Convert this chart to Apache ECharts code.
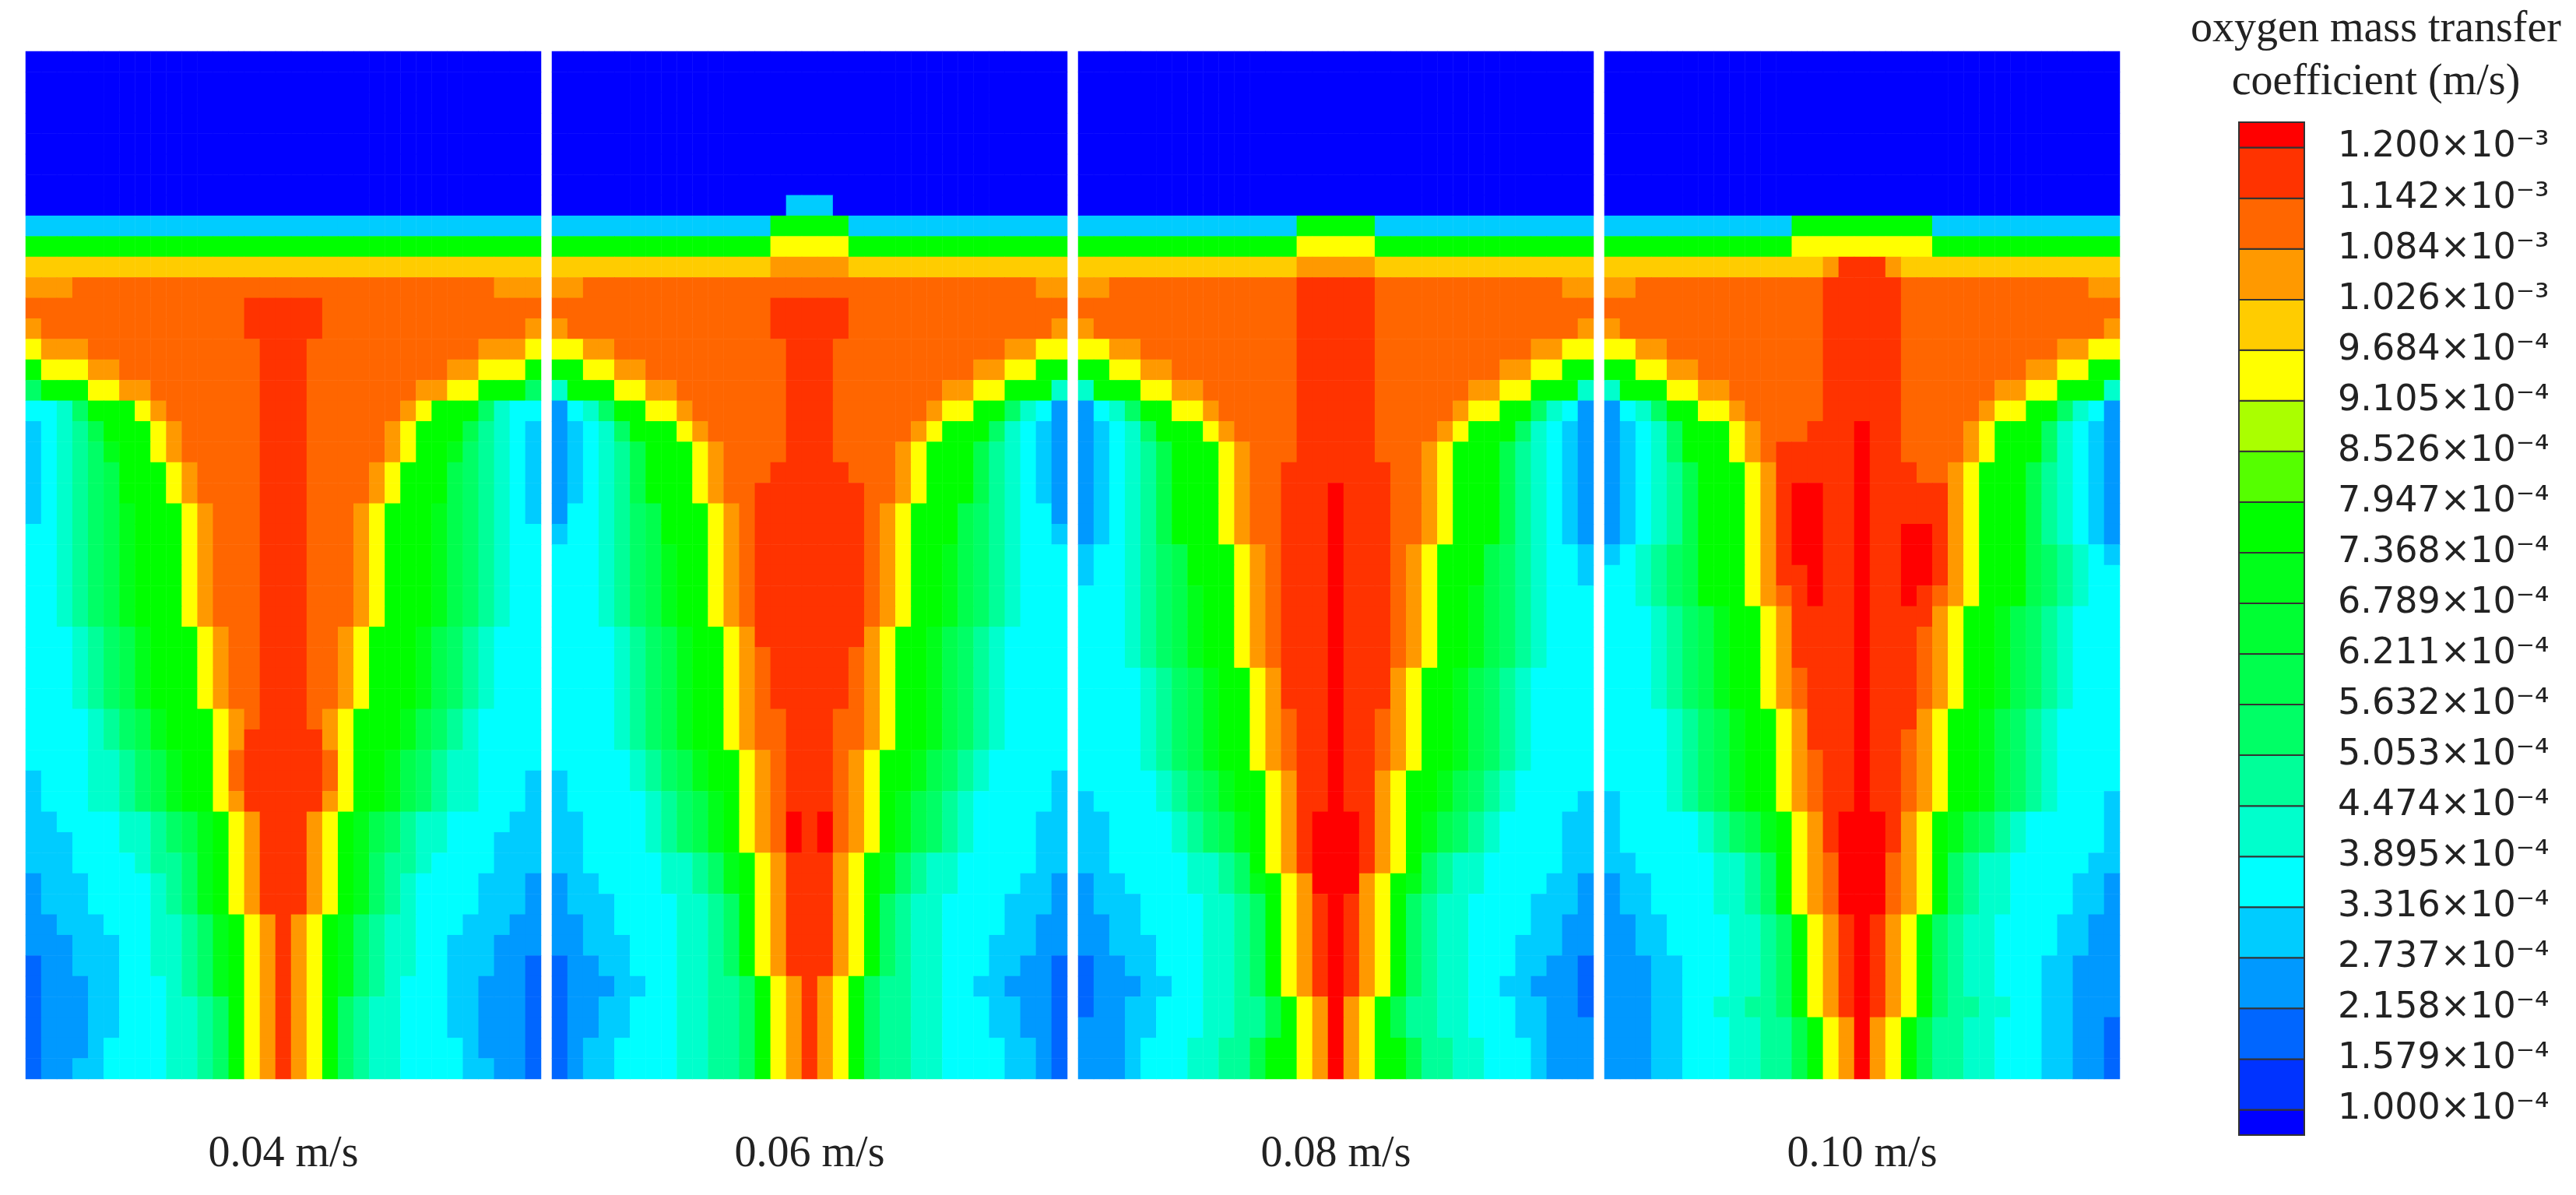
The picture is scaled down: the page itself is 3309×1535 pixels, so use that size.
<!DOCTYPE html>
<html>
<head>
<meta charset="utf-8">
<script src="https://cdn.jsdelivr.net/npm/echarts@6/dist/echarts.min.js"></script>
<style>
html, body { margin: 0; padding: 0; background: #fff; }
#chart { width: 3309px; height: 1535px; }
</style>
</head>
<body>
<div id="chart"></div>
<script>
// contour levels shown on the legend (m/s), bottom to top
var levels = [1.000e-4, 1.579e-4, 2.158e-4, 2.737e-4, 3.316e-4, 3.895e-4, 4.474e-4, 5.053e-4,
    5.632e-4, 6.211e-4, 6.789e-4, 7.368e-4, 7.947e-4, 8.526e-4, 9.105e-4, 9.684e-4,
    1.026e-3, 1.084e-3, 1.142e-3, 1.200e-3];
var tickMantissa = ['1.000', '1.579', '2.158', '2.737', '3.316', '3.895', '4.474', '5.053',
    '5.632', '6.211', '6.789', '7.368', '7.947', '8.526', '9.105', '9.684',
    '1.026', '1.084', '1.142', '1.200'];
var tickExponent = [-4, -4, -4, -4, -4, -4, -4, -4, -4, -4, -4, -4, -4, -4, -4, -4, -3, -3, -3, -3];
// one colour per band: below the first level, the 19 intervals, above the last level
var bandColors = ['#0000ff', '#0033ff', '#0066ff', '#0099ff', '#00ccff', '#00ffff', '#00ffcc',
    '#00ff99', '#00ff66', '#00ff4d', '#00ff33', '#00ff1a', '#00ff00', '#55ff00', '#aaff00',
    '#ffff00', '#ffcc00', '#ff9900', '#ff6600', '#ff3300', '#ff0000'];
var speeds = ['0.04 m/s', '0.06 m/s', '0.08 m/s', '0.10 m/s'];
var titleLines = ['oxygen mass transfer', 'coefficient (m/s)'];

// band: one string per row (top to bottom), one char per column
// (left to right), 0-9 then a-k = band 0..20
var field004 = [
    "000000000000000000000000000000000",
    "000000000000000000000000000000000",
    "000000000000000000000000000000000",
    "000000000000000000000000000000000",
    "000000000000000000000000000000000",
    "000000000000000000000000000000000",
    "000000000000000000000000000000000",
    "000000000000000000000000000000000",
    "444444444444444444444444444444444",
    "ccccccccccccccccccccccccccccccccc",
    "ggggggggggggggggggggggggggggggggg",
    "hhhiiiiiiiiiiiiiiiiiiiiiiiiiiihhh",
    "iiiiiiiiiiiiiijjjjjiiiiiiiiiiiiii",
    "hiiiiiiiiiiiiijjjjjiiiiiiiiiiiiih",
    "fhhhiiiiiiiiiiijjjiiiiiiiiiiihhhf",
    "cfffhhiiiiiiiiijjjiiiiiiiiihhfffc",
    "8cccffhhiiiiiiijjjiiiiiiihhffccc8",
    "5568cccfhiiiiiijjjiiiiiihfccc8655",
    "45679cccfhiiiiijjjiiiiihfccc97654",
    "45678bccfhiiiiijjjiiiiihfccb87654",
    "456789cccfhiiiijjjiiiihfccc987654",
    "456789cccfhiiiijjjiiiihfccc987654",
    "456789bcccfhiiijjjiiihfcccb987654",
    "556789bcccfhiiijjjiiihfcccb987655",
    "556789bcccfhiiijjjiiihfcccb987655",
    "556789bcccfhiiijjjiiihfcccb987655",
    "556789bcccfhiiijjjiiihfcccb987655",
    "556789bcccfhiiijjjiiihfcccb987655",
    "5556789bcccfhiijjjiihfcccb9876555",
    "5556789bcccfhiijjjiihfcccb9876555",
    "5556789bcccfhiijjjiihfcccb9876555",
    "5556789bcccfhiijjjiihfcccb9876555",
    "55556789bcccfhijjjihfcccb98765555",
    "55556789bcccfhjjjjjhfcccb98765555",
    "555566789bccfijjjjjifccb987665555",
    "455566789bccfijjjjjifccb987665554",
    "455566789bccfhjjjjjhfccb987665554",
    "44555566789bcfhjjjhfcb98766555544",
    "44455566789bcfhjjjhfcb98766555444",
    "44455556778bcfhjjjhfcb87765555444",
    "34445555678bcfhjjjhfcb87655554443",
    "34445555678bcfhjjjhfcb87655554443",
    "334445556678bcfhjhfcb876655544433",
    "333444556678bcfhjhfcb876655444333",
    "233444556678bcfhjhfcb876655444332",
    "233344555678bcfhjhfcb876555443332",
    "2333445556678cfhjhfc8766555443332",
    "2333445556678cfhjhfc8766555443332",
    "2333455556678cfhjhfc8766555543332",
    "2334455556678cfhjhfc8766555544332"
];
var field006 = [
    "000000000000000000000000000000000",
    "000000000000000000000000000000000",
    "000000000000000000000000000000000",
    "000000000000000000000000000000000",
    "000000000000000000000000000000000",
    "000000000000000000000000000000000",
    "000000000000000000000000000000000",
    "000000000000000444000000000000000",
    "44444444444444ccccc44444444444444",
    "ccccccccccccccfffffcccccccccccccc",
    "gggggggggggggghhhhhgggggggggggggg",
    "hhiiiiiiiiiiiiiiiiiiiiiiiiiiiiihh",
    "iiiiiiiiiiiiiijjjjjiiiiiiiiiiiiii",
    "hiiiiiiiiiiiiijjjjjiiiiiiiiiiiiih",
    "ffhhiiiiiiiiiiijjjiiiiiiiiiiihhff",
    "ccffhhiiiiiiiiijjjiiiiiiiiihhffcc",
    "6cccffhhiiiiiiijjjiiiiiiihhffccc6",
    "3568ccffhiiiiiijjjiiiiiihffcc8653",
    "34568cccfhiiiiijjjiiiiihfccc86543",
    "345679cccfhiiiijjjiiiihfccc976543",
    "345679cccfhiiijjjjjiiihfccc976543",
    "345679cccfhiijjjjjjjiihfccc976543",
    "3556789cccfhijjjjjjjihfccc9876553",
    "4556789cccfhijjjjjjjihfccc9876554",
    "5556789bccfhijjjjjjjihfccb9876555",
    "5556789bccfhijjjjjjjihfccb9876555",
    "5556789bccfhijjjjjjjihfccb9876555",
    "5556789bccfhijjjjjjjihfccb9876555",
    "55556789bccfhjjjjjjjhfccb98765555",
    "55556789bccfhijjjjjihfccb98765555",
    "55556789bccfhijjjjjihfccb98765555",
    "55556789bccfhijjjjjihfccb98765555",
    "55556789bccfhiijjjiihfccb98765555",
    "55556789bccfhiijjjiihfccb98765555",
    "555556789bccfhijjjihfccb987655555",
    "455556789bccfhijjjihfccb987655554",
    "4555556789bcfhijjjihfcb9876555554",
    "4455556789bcfhikjkihfcb9876555544",
    "4455556789bcfhikjkihfcb9876555544",
    "44555556678bcfhjjjhfcb87665555544",
    "34455556678bcfhjjjhfcb87665555443",
    "344455556678cfhjjjhfc876655554443",
    "334455556678cfhjjjhfc876655554433",
    "334445556678cfhjjjhfc876655544433",
    "233445556678cfhjjjhfc876655544332",
    "2333445566778cfhjhfc8776655443332",
    "2334455566778cfhjhfc8776655544332",
    "2334455566778cfhjhfc8776655544332",
    "2344555566778cfhjhfc8776655554432",
    "2344555566778cfhjhfc8776655554432"
];
var field008 = [
    "000000000000000000000000000000000",
    "000000000000000000000000000000000",
    "000000000000000000000000000000000",
    "000000000000000000000000000000000",
    "000000000000000000000000000000000",
    "000000000000000000000000000000000",
    "000000000000000000000000000000000",
    "000000000000000000000000000000000",
    "44444444444444ccccc44444444444444",
    "ccccccccccccccfffffcccccccccccccc",
    "gggggggggggggghhhhhgggggggggggggg",
    "hhiiiiiiiiiiiijjjjjiiiiiiiiiiiihh",
    "iiiiiiiiiiiiiijjjjjiiiiiiiiiiiiii",
    "hiiiiiiiiiiiiijjjjjiiiiiiiiiiiiih",
    "ffhhiiiiiiiiiijjjjjiiiiiiiiiihhff",
    "ccffhhiiiiiiiijjjjjiiiiiiiihhffcc",
    "6cccffhhiiiiiijjjjjiiiiiihhffccc6",
    "3568ccffhiiiiijjjjjiiiiihffcc8653",
    "34568cccfhiiiijjjjjiiiihfccc86543",
    "345679cccfhiiijjjjjiiihfccc976543",
    "345679cccfhiijjjjjjjiihfccc976543",
    "345679cccfhiijjjkjjjiihfccc976543",
    "345679cccfhiijjjkjjjiihfccc976543",
    "345679cccfhiijjjkjjjiihfccc976543",
    "4556789cccfhijjjkjjjihfccc9876554",
    "4556789cccfhijjjkjjjihfccc9876554",
    "5556789bccfhijjjkjjjihfccb9876555",
    "5556789bccfhijjjkjjjihfccb9876555",
    "5556789bccfhijjjkjjjihfccb9876555",
    "5556789bccfhijjjkjjjihfccb9876555",
    "55556789bccfhjjjkjjjhfccb98765555",
    "55556789bccfhjjjkjjjhfccb98765555",
    "55556789bccfhijjkjjihfccb98765555",
    "55556789bccfhijjkjjihfccb98765555",
    "55556789bccfhijjkjjihfccb98765555",
    "555556789bccfhjjkjjhfccb987655555",
    "455556789bccfhjjkjjhfccb987655554",
    "4455556789bcfhjkkkjhfcb9876555544",
    "4455556789bcfhjkkkjhfcb9876555544",
    "44555556678cfhjkkkjhfc87665555544",
    "34455556678bcfhkkkhfcb87665555443",
    "344455556678cfhjkjhfc876655554443",
    "334455556678cfhjkjhfc876655554433",
    "334445556678cfhjkjhfc876655544433",
    "233445556678cfhjkjhfc876655544332",
    "233344556678cfhjkjhfc876655443332",
    "2334455566779cfhkhfc9776655544332",
    "3334455566779cfhkhfc9776655544333",
    "333455566779ccfhkhfcc977665554333",
    "333455566779ccfhkhfcc977665554333"
];
var field010 = [
    "000000000000000000000000000000000",
    "000000000000000000000000000000000",
    "000000000000000000000000000000000",
    "000000000000000000000000000000000",
    "000000000000000000000000000000000",
    "000000000000000000000000000000000",
    "000000000000000000000000000000000",
    "000000000000000000000000000000000",
    "444444444444ccccccccc444444444444",
    "ccccccccccccfffffffffcccccccccccc",
    "gggggggggggggghjjjhgggggggggggggg",
    "hhiiiiiiiiiiiijjjjjiiiiiiiiiiiihh",
    "iiiiiiiiiiiiiijjjjjiiiiiiiiiiiiii",
    "hiiiiiiiiiiiiijjjjjiiiiiiiiiiiiih",
    "ffhhiiiiiiiiiijjjjjiiiiiiiiiihhff",
    "ccffhhiiiiiiiijjjjjiiiiiiiihhffcc",
    "6cccffhhiiiiiijjjjjiiiiiihhffccc6",
    "3568ccffhiiiiijjjjjiiiiihffcc8653",
    "34568cccfhiiijjjkjjiiiihfccc86543",
    "34568cccfhijjjjjkjjiiiihfccc86543",
    "345679cccfhjjjjjkjjjiihfccc976543",
    "345679cccfhjkkjjkjjjjjhfccc976543",
    "345679cccfhjkkjjkjjjjjhfccc976543",
    "345679cccfhjkkjjkjjkkjhfccc976543",
    "456789cccfhjkkjjkjjkkjhfccc987654",
    "556789cccfhjjkjjkjjkkjhfccc987655",
    "556789cccfhijkjjkjjkjihfccc987655",
    "5556789bccfhjjjjkjjjjhfccb9876555",
    "5556789bccfhjjjjkjjjihfccb9876555",
    "5556789bccfhjjjjkjjjihfccb9876555",
    "5556789bccfhijjjkjjjihfccb9876555",
    "5556789bccfhijjjkjjjihfccb9876555",
    "55556789bccfhjjjkjjjhfccb98765555",
    "55556789bccfhjjjkjjihfccb98765555",
    "55556789bccfhijjkjjihfccb98765555",
    "55556789bccfhijjkjjihfccb98765555",
    "45556789bccfhijjkjjihfccb98765554",
    "4555556789bcfhjkkkjhfcb9876555554",
    "4555556789bcfhjkkkjhfcb9876555554",
    "44555556678cfhikkkihfc87665555544",
    "34455556678cfhikkkihfc87665555443",
    "34455556678cfhikkkihfc87665555443",
    "334455556678cfhjkjhfc876655554433",
    "334455556678cfhjkjhfc876655554433",
    "333445556678cfhjkjhfc876655544333",
    "333445556678cfhjkjhfc876655544333",
    "333445566778cfhjkjhfc877665544333",
    "3334455566779cfhkhfc9776655544332",
    "3334455566779cfhkhfc9776655544332",
    "3334455566779cfhkhfc9776655544332"
];
var fields = [field004, field006, field008, field010];

var step = levels[1] - levels[0];
// a value inside each band, used to place a cell in its band
var bandValue = [levels[0] - step / 2];
for (var k = 1; k < levels.length; k++) {
    bandValue.push((levels[k - 1] + levels[k]) / 2);
}
bandValue.push(levels[levels.length - 1] + step / 2);

function cellsOf(rows) {
    var out = [];
    rows.forEach(function (row, r) {
        for (var c = 0; c < row.length; c++) {
            out.push([c, r, bandValue[parseInt(row.charAt(c), 36)]]);
        }
    });
    return out;
}

var nCols = field004[0].length, nRows = field004.length;
var colIds = [], rowIds = [];
for (var i = 0; i < nCols; i++) colIds.push(i);
for (var i = 0; i < nRows; i++) rowIds.push(i);

var pieces = [{lt: levels[0], color: bandColors[0]}];
for (var k = 1; k < levels.length; k++) {
    pieces.push({gte: levels[k - 1], lt: levels[k], color: bandColors[k]});
}
pieces.push({gte: levels[levels.length - 1], color: bandColors[levels.length]});

var panelLeft = [33, 709, 1385, 2061];
var grids = [], xAxes = [], yAxes = [], series = [];
fields.forEach(function (f, p) {
    grids.push({left: panelLeft[p], top: 66, width: 662, height: 1320});
    xAxes.push({
        gridIndex: p, type: 'category', data: colIds,
        axisLine: {show: false}, axisTick: {show: false}, axisLabel: {show: false}, splitLine: {show: false},
        name: speeds[p], nameLocation: 'middle', nameGap: 69,
        nameTextStyle: {fontFamily: 'Liberation Serif', fontSize: 56, color: '#222'}
    });
    yAxes.push({gridIndex: p, type: 'category', data: rowIds, inverse: true, show: false});
    series.push({
        type: 'heatmap', xAxisIndex: p, yAxisIndex: p, data: cellsOf(f),
        itemStyle: {borderWidth: 0}, emphasis: {disabled: true}, silent: true, progressive: 0
    });
});

// colour bar
grids.push({left: 2876, top: 157, width: 84, height: 1301});
xAxes.push({gridIndex: 4, type: 'value', min: 0, max: 1, show: false});
yAxes.push({
    gridIndex: 4, type: 'value', position: 'right',
    min: levels[0] - step / 2, max: levels[levels.length - 1] + step / 2,
    axisLine: {show: false}, axisTick: {show: false}, splitLine: {show: false},
    axisLabel: {
        customValues: levels, margin: 43, fontFamily: 'DejaVu Sans', fontSize: 46, color: '#222',
        formatter: function (v) {
            var best = 0;
            for (var i = 1; i < levels.length; i++) {
                if (Math.abs(levels[i] - v) < Math.abs(levels[best] - v)) best = i;
            }
            return tickMantissa[best] + '×10' + (tickExponent[best] === -3 ? '⁻³' : '⁻⁴');
        }
    }
});
var barData = bandColors.map(function (col, k) {
    var lo = k === 0 ? levels[0] - step / 2 : levels[k - 1];
    var hi = k === levels.length ? levels[k - 1] + step / 2 : levels[k];
    return [0, lo, hi, k];
});
series.push({
    type: 'custom', xAxisIndex: 4, yAxisIndex: 4, data: barData, silent: true,
    encode: {x: 0, y: [1, 2]},
    renderItem: function (params, api) {
        var top = api.coord([0, api.value(2)]);
        var bottom = api.coord([1, api.value(1)]);
        return {
            type: 'rect',
            shape: {x: top[0], y: top[1], width: bottom[0] - top[0], height: bottom[1] - top[1]},
            style: {fill: bandColors[api.value(3)], stroke: '#333', lineWidth: 2}
        };
    }
});

var chart = echarts.init(document.getElementById('chart'));
chart.setOption({
    animation: false,
    backgroundColor: '#fff',
    grid: grids,
    xAxis: xAxes,
    yAxis: yAxes,
    visualMap: {type: 'piecewise', show: false, seriesIndex: [0, 1, 2, 3], pieces: pieces},
    graphic: [
        {type: 'text', x: 3052, y: 38, style: {text: titleLines[0], fontFamily: 'Liberation Serif', fontSize: 56,
            fill: '#222', align: 'center', verticalAlign: 'middle', textAlign: 'center', textVerticalAlign: 'middle'}},
        {type: 'text', x: 3052, y: 106, style: {text: titleLines[1], fontFamily: 'Liberation Serif', fontSize: 56,
            fill: '#222', align: 'center', verticalAlign: 'middle', textAlign: 'center', textVerticalAlign: 'middle'}}
    ],
    series: series
});
</script>
</body>
</html>
